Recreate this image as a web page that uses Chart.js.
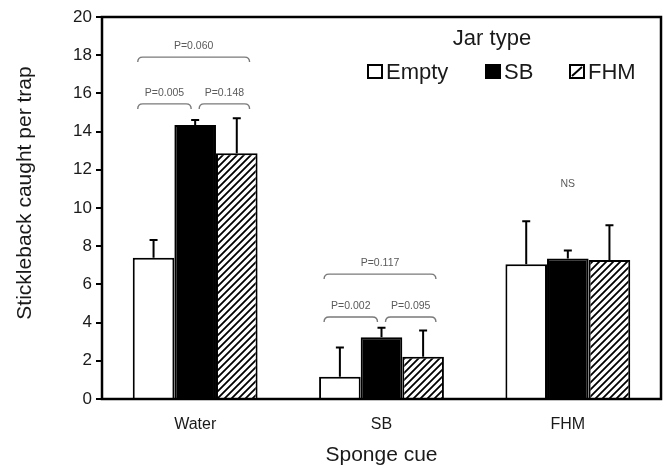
<!DOCTYPE html>
<html lang="en">
<head>
  <meta charset="UTF-8">
  <title>Stickleback caught per trap</title>
  <script src="https://cdn.jsdelivr.net/npm/chart.js"></script>
  <style>
    body { margin: 0; padding: 0; background: #fff; }
    #wrap { width: 664px; height: 468px; }
  </style>
</head>
<body>
  <div id="wrap"><canvas id="cueChart" width="664" height="468"></canvas></div>

  <script>
    // data
    const categories = ['Water', 'SB', 'FHM'];
    const jarTypes = ['Empty', 'SB', 'FHM'];
    const emptyMeans = [7.4, 1.17, 7.05];
    const emptyErr = [0.93, 1.52, 2.25];
    const sbMeans = [14.35, 3.23, 7.35];
    const sbErr = [0.26, 0.5, 0.43];
    const fhmMeans = [12.86, 2.21, 7.28];
    const fhmErr = [1.84, 1.37, 1.82];
    const yTicks = [0, 2, 4, 6, 8, 10, 12, 14, 16, 18, 20];

    // pairwise comparisons (category, from bar, to bar, bracket height, label)
    const compCategory = [0, 0, 0, 1, 1, 1];
    const compFrom = [0, 1, 0, 0, 1, 0];
    const compTo = [1, 2, 2, 1, 2, 2];
    const compLevel = [15.45, 15.45, 17.9, 4.29, 4.29, 6.54];
    const compLabel = ['P=0.005', 'P=0.148', 'P=0.060', 'P=0.002', 'P=0.095', 'P=0.117'];
    const nsCategory = [2];
    const nsLevel = [11.26];
    const nsLabel = ['NS'];

    const errors = [emptyErr, sbErr, fhmErr];
    const FONT = "'Liberation Sans', Arial, sans-serif";

    // diagonal hatch for FHM bars
    function makeHatch() {
      const s = 7;
      const c = document.createElement('canvas');
      c.width = s; c.height = s;
      const g = c.getContext('2d');
      g.fillStyle = '#fff';
      g.fillRect(0, 0, s, s);
      g.strokeStyle = '#000';
      g.lineWidth = 1.8;
      g.beginPath();
      g.moveTo(-1, s + 1); g.lineTo(s + 1, -1);
      g.moveTo(-1, 1); g.lineTo(1, -1);
      g.moveTo(s - 1, s + 1); g.lineTo(s + 1, s - 1);
      g.stroke();
      return g.createPattern(c, 'repeat');
    }

    const ctx = document.getElementById('cueChart').getContext('2d');
    const hatch = makeHatch();

    const extras = {
      id: 'extras',
      afterDatasetsDraw(chart) {
        const c = chart.ctx;
        const y = chart.scales.y;
        const area = chart.chartArea;

        // error bars (upper only)
        c.save();
        c.strokeStyle = '#000';
        c.lineWidth = 2;
        chart.data.datasets.forEach((ds, di) => {
          const meta = chart.getDatasetMeta(di);
          meta.data.forEach((bar, i) => {
            const top = y.getPixelForValue(ds.data[i] + errors[di][i]);
            c.beginPath();
            c.moveTo(bar.x, bar.y);
            c.lineTo(bar.x, top);
            c.moveTo(bar.x - 4, top);
            c.lineTo(bar.x + 4, top);
            c.stroke();
          });
        });
        c.restore();

        // frame
        c.save();
        c.strokeStyle = '#000';
        c.lineWidth = 2.5;
        c.strokeRect(area.left, area.top, area.right - area.left, area.bottom - area.top);
        c.restore();

        // comparison brackets
        c.save();
        c.strokeStyle = '#7a7a7a';
        c.fillStyle = '#5a5a5a';
        c.lineWidth = 1.4;
        c.font = '10.5px ' + FONT;
        c.textAlign = 'center';
        c.textBaseline = 'middle';
        compLabel.forEach((lab, k) => {
          const a = chart.getDatasetMeta(compFrom[k]).data[compCategory[k]];
          const b = chart.getDatasetMeta(compTo[k]).data[compCategory[k]];
          const x1 = compFrom[k] === 0 ? a.x - a.width / 2 + 5 : a.x + 4;
          const x2 = compTo[k] === 1 ? b.x - 4 : b.x + b.width / 2 - 8;
          const py = y.getPixelForValue(compLevel[k]);
          const r = 5;
          c.beginPath();
          c.moveTo(x1, py + r);
          c.quadraticCurveTo(x1, py, x1 + r, py);
          c.lineTo(x2 - r, py);
          c.quadraticCurveTo(x2, py, x2, py + r);
          c.stroke();
          c.fillText(lab, (x1 + x2) / 2, py - 11);
        });
        nsLabel.forEach((lab, k) => {
          const bar = chart.getDatasetMeta(1).data[nsCategory[k]];
          c.fillText(lab, bar.x, y.getPixelForValue(nsLevel[k]));
        });
        c.restore();
      },
      afterDraw(chart) {
        const c = chart.ctx;
        const area = chart.chartArea;
        c.save();
        c.fillStyle = '#1a1a1a';
        c.textAlign = 'center';
        c.textBaseline = 'middle';
        c.font = '21px ' + FONT;
        // axis titles
        c.fillText('Sponge cue', (area.left + area.right) / 2, 455);
        c.save();
        c.translate(25, 193);
        c.rotate(-Math.PI / 2);
        c.fillText('Stickleback caught per trap', 0, 0);
        c.restore();

        // legend
        c.font = '22px ' + FONT;
        c.fillText('Jar type', 492, 39);
        c.textAlign = 'left';
        c.textBaseline = 'alphabetic';
        const boxX = [368, 486, 570];
        const fills = ['#fff', '#000', '#fff'];
        jarTypes.forEach((name, i) => {
          c.fillStyle = fills[i];
          c.fillRect(boxX[i], 65, 14, 13);
          c.strokeStyle = '#000';
          c.lineWidth = 2;
          c.strokeRect(boxX[i], 65, 14, 13);
          if (i === 2) {
            c.beginPath();
            c.moveTo(boxX[i] + 2, 76);
            c.lineTo(boxX[i] + 12, 67);
            c.stroke();
          }
          c.fillStyle = '#1a1a1a';
          c.fillText(name, boxX[i] + 18, 79);
        });
        c.restore();
      }
    };

    new Chart(ctx, {
      type: 'bar',
      data: {
        labels: categories,
        datasets: [
          { label: jarTypes[0], data: emptyMeans, backgroundColor: '#fff', borderColor: '#000', borderWidth: 2 },
          { label: jarTypes[1], data: sbMeans, backgroundColor: '#000', borderColor: '#000', borderWidth: 2 },
          { label: jarTypes[2], data: fhmMeans, backgroundColor: hatch, borderColor: '#000', borderWidth: 2 }
        ]
      },
      options: {
        responsive: false,
        animation: false,
        layout: { padding: { top: 17, right: 3, left: 0, bottom: 0 } },
        datasets: { bar: { categoryPercentage: 0.67, barPercentage: 1.0 } },
        plugins: {
          legend: { display: false },
          tooltip: { enabled: false }
        },
        scales: {
          x: {
            grid: { display: false, drawTicks: false },
            border: { display: true, color: '#000', width: 2 },
            ticks: { color: '#1a1a1a', font: { family: FONT, size: 16 }, padding: 16 },
            afterFit(scale) { scale.height = 69; }
          },
          y: {
            min: 0,
            max: 20,
            afterBuildTicks(scale) { scale.ticks = yTicks.map(v => ({ value: v })); },
            grid: { drawOnChartArea: false, drawTicks: true, tickLength: 6, color: '#000', lineWidth: 2 },
            border: { display: true, color: '#000', width: 2 },
            ticks: { color: '#1a1a1a', font: { family: FONT, size: 17 }, padding: 4 },
            afterFit(scale) { scale.width = 102; }
          }
        }
      },
      plugins: [extras]
    });
  </script>
</body>
</html>
